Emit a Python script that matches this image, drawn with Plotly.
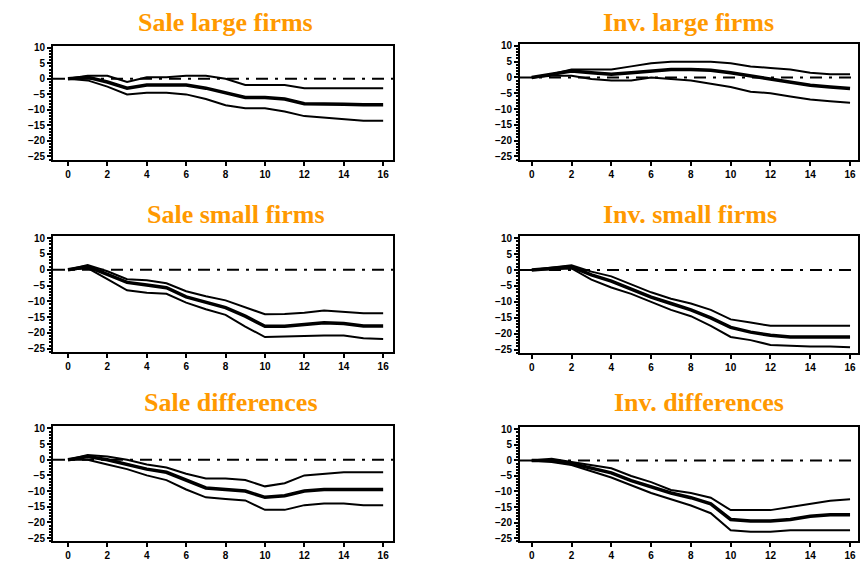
import plotly.graph_objects as go

horizon = list(range(17))

# Sale large firms
sale_large_mid = [0, 0.5, -1, -3, -2, -2, -2, -3, -4.5, -6, -6, -6.5, -8, -8, -8.2, -8.3, -8.3]
sale_large_up = [0, 1, 1, -1, 0.5, 0.5, 1, 1, 0, -2, -2, -2, -3, -3, -3, -3, -3]
sale_large_lo = [0, -0.5, -2.5, -5, -4.5, -4.5, -5, -6.5, -8.5, -9.5, -9.5, -10.5, -12, -12.5, -13, -13.5, -13.5]

# Inv. large firms
inv_large_mid = [0, 1, 2, 1.5, 1, 1.5, 2, 2.5, 2.5, 2.3, 1.5, 0.5, -0.5, -1.5, -2.5, -3, -3.5]
inv_large_up = [0, 1, 2.5, 2.5, 2.5, 3.5, 4.5, 5, 5, 5, 4.5, 3.5, 3, 2.5, 1.5, 1, 1]
inv_large_lo = [0, 0.5, 0.5, -0.5, -1, -1, 0, -0.5, -1, -2, -3, -4.5, -5, -6, -7, -7.5, -8]

# Sale small firms
sale_small_mid = [0, 1, -1.5, -4, -4.8, -5.7, -8.6, -10.4, -12, -14.7, -17.9, -17.9, -17.3, -16.8, -17, -17.8, -17.8]
sale_small_up = [0, 1.5, -0.5, -3, -3.3, -4.3, -6.8, -8.4, -9.7, -12, -14.1, -14, -13.6, -12.9, -13.3, -13.8, -13.8]
sale_small_lo = [0, 0.5, -3, -6.5, -7.3, -7.6, -10.4, -12.5, -14.3, -18, -21.3, -21.1, -20.8, -20.8, -20.8, -21.7, -21.9]

# Inv. small firms
inv_small_mid = [0, 0.5, 1, -1.5, -3.5, -6, -8.5, -10.5, -12.5, -15, -18, -19.5, -20.5, -21, -21, -21, -21]
inv_small_up = [0, 0.8, 1.5, -0.5, -2, -4.5, -7, -9, -10.5, -12.5, -15.5, -16.5, -17.5, -17.5, -17.5, -17.5, -17.5]
inv_small_lo = [0, 0.3, 0.5, -3, -5.5, -7.5, -10, -12.5, -14.5, -17.5, -21, -22, -23.5, -23.8, -24, -24, -24.2]

# Sale differences
sale_diff_mid = [0, 1, 0, -1.5, -3, -4, -6.5, -9, -9.5, -10, -12, -11.5, -10, -9.5, -9.5, -9.5, -9.5]
sale_diff_up = [0, 1.5, 1, 0, -1.5, -2.5, -4.5, -6, -6, -6.5, -8.5, -7.5, -5, -4.5, -4, -4, -4]
sale_diff_lo = [0, 0, -1.5, -3, -5, -6.5, -9.5, -12, -12.5, -13, -16, -16, -14.5, -14, -14, -14.5, -14.5]

# Inv. differences
inv_diff_mid = [0, 0, -1, -2.5, -4, -6.5, -8.5, -10.5, -12, -14, -19, -19.5, -19.5, -19, -18, -17.5, -17.5]
inv_diff_up = [0, 0.5, -0.5, -1.5, -2.5, -5, -7, -9.5, -10.5, -12, -16, -16, -16, -15, -14, -13, -12.5]
inv_diff_lo = [0, -0.5, -1.5, -3.5, -5.5, -8, -10.5, -12.5, -14.5, -17, -22.5, -23, -23, -22.5, -22.5, -22.5, -22.5]

titles = ["Sale large firms", "Inv. large firms", "Sale small firms",
          "Inv. small firms", "Sale differences", "Inv. differences"]
panels = [
    (sale_large_mid, sale_large_up, sale_large_lo),
    (inv_large_mid, inv_large_up, inv_large_lo),
    (sale_small_mid, sale_small_up, sale_small_lo),
    (inv_small_mid, inv_small_up, inv_small_lo),
    (sale_diff_mid, sale_diff_up, sale_diff_lo),
    (inv_diff_mid, inv_diff_up, inv_diff_lo),
]
y_ticks = [10, 5, 0, -5, -10, -15, -20, -25]
x_ticks = list(range(0, 17, 2))

W, H = 861, 563
# plot boxes in pixels (left, top, right, bottom)
boxes = [
    (53, 43, 393, 158), (520, 41, 858, 158),
    (53, 235, 393, 352), (520, 235, 858, 353),
    (53, 427, 393, 543), (520, 428, 858, 543),
]
title_pos = [(225, 20), (688, 20), (236, 213), (690, 213), (231, 403), (699, 403)]

fig = go.Figure()
for i, ((mid, up, lo), (l, t, r, b)) in enumerate(zip(panels, boxes)):
    n = i + 1
    xa = "x" if n == 1 else f"x{n}"
    ya = "y" if n == 1 else f"y{n}"
    xr = [-0.76, 16.5] if l < 400 else [-0.59, 16.4]
    # zero reference line
    fig.add_trace(go.Scatter(x=[xr[0], xr[1]], y=[0, 0], mode="lines", xaxis=xa, yaxis=ya,
                             line=dict(color="black", width=2, dash="12px,7px,3px,7px"),
                             showlegend=False, hoverinfo="skip"))
    for series, w in ((up, 2), (lo, 2), (mid, 3.5)):
        fig.add_trace(go.Scatter(x=horizon, y=series, mode="lines", xaxis=xa, yaxis=ya,
                                 line=dict(color="black", width=w), showlegend=False))
    axcommon = dict(showline=True, linecolor="black", linewidth=2, mirror=True,
                    ticks="outside", tickcolor="black", tickwidth=2, ticklen=4,
                    showgrid=False, zeroline=False,
                    tickfont=dict(family="Liberation Sans", size=10, color="black", weight="bold"))
    fig.layout[f"xaxis{'' if n == 1 else n}"] = dict(
        domain=[l / W, r / W], anchor=ya, range=xr, tickvals=x_ticks, **axcommon)
    fig.layout[f"yaxis{'' if n == 1 else n}"] = dict(
        domain=[1 - b / H, 1 - t / H], anchor=xa, range=[-26, 10.7], tickvals=y_ticks,
        minor=dict(ticks="outside", ticklen=2, tickcolor="black", dtick=1),
        **axcommon)
    tx, ty = title_pos[i]
    fig.add_annotation(text=titles[i], x=tx / W, y=1 - ty / H, xref="paper", yref="paper",
                       showarrow=False, xanchor="center", yanchor="middle",
                       font=dict(family="Liberation Serif", size=26, color="#FF9900", weight="bold"))

fig.update_layout(width=W, height=H, margin=dict(l=0, r=0, t=0, b=0),
                  paper_bgcolor="white", plot_bgcolor="white")
fig.write_html("out.html", config={"displayModeBar": False},
               post_script="document.body.style.margin='0';document.body.style.padding='0';"
                           "document.documentElement.style.overflow='hidden';")
